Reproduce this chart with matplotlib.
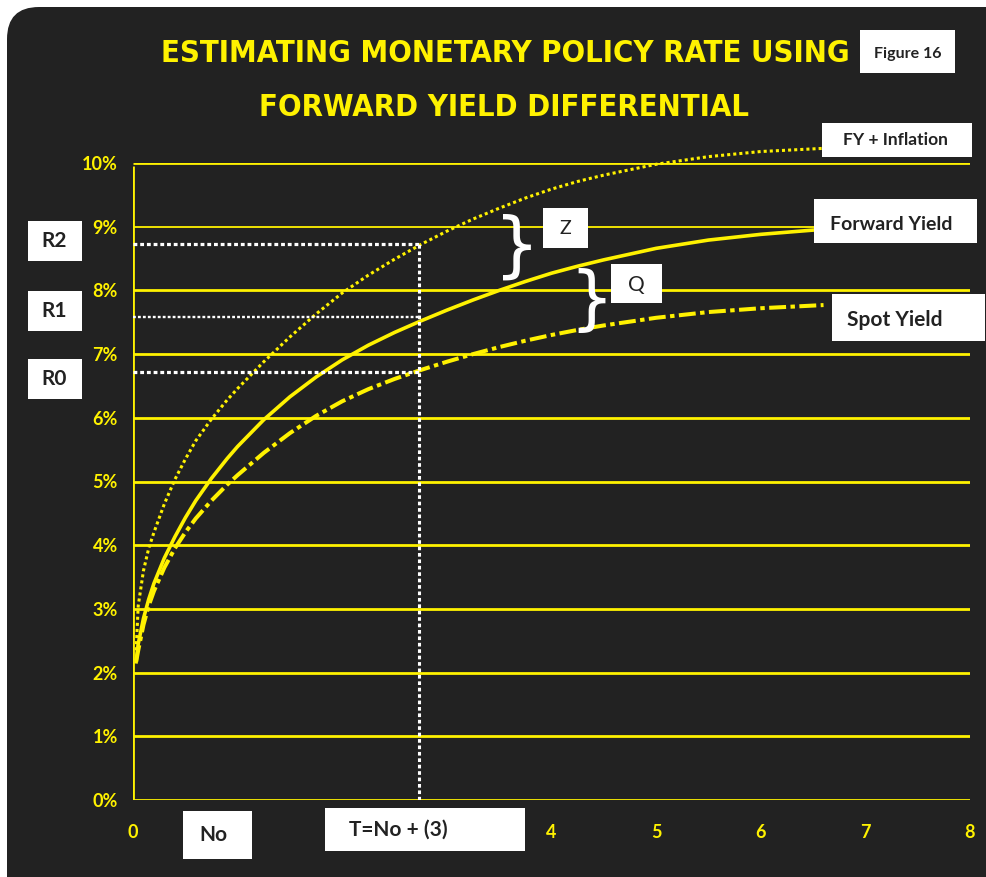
import matplotlib
matplotlib.use("Agg")
import matplotlib.pyplot as plt
from matplotlib import font_manager
from matplotlib.font_manager import FontProperties
from matplotlib.patches import FancyBboxPatch, Rectangle
from matplotlib.transforms import IdentityTransform

# ---------------- data ----------------
x_years = [0.03, 0.05, 0.1, 0.15, 0.2, 0.3, 0.4, 0.5, 0.6, 0.75, 0.9, 1.0, 1.25, 1.5, 1.75,
           2.0, 2.25, 2.5, 2.75, 3.0, 3.25, 3.5, 3.75, 4.0, 4.25, 4.5, 5.0, 5.5, 6.0, 6.6]
forward_yield = [2.17, 2.45, 2.85, 3.15, 3.4, 3.8, 4.13, 4.43, 4.7, 5.05, 5.36, 5.55, 5.97, 6.33, 6.64,
                 6.91, 7.14, 7.34, 7.52, 7.69, 7.85, 8.0, 8.14, 8.27, 8.38, 8.48, 8.66, 8.79, 8.88, 8.96]
spot_yield = [2.17, 2.35, 2.75, 3.05, 3.28, 3.65, 3.95, 4.2, 4.42, 4.7, 4.95, 5.1, 5.45, 5.76, 6.03,
              6.26, 6.45, 6.61, 6.75, 6.88, 7.0, 7.11, 7.21, 7.3, 7.38, 7.45, 7.57, 7.66, 7.72, 7.77]
fy_inflation = [2.35, 3.05, 3.6, 3.95, 4.2, 4.65, 5.03, 5.35, 5.64, 5.98, 6.28, 6.46, 6.88, 7.27, 7.63,
                7.96, 8.24, 8.49, 8.72, 8.93, 9.12, 9.29, 9.45, 9.59, 9.71, 9.81, 9.98, 10.1, 10.18, 10.23]
r_levels = [6.72, 7.58, 8.73]       # R0, R1, R2
r_labels = ["R0", "R1", "R2"]
t_marker = 2.73
y_ticks = list(range(0, 11))
y_tick_labels = [f"{v}%" for v in y_ticks]
x_ticks = [0, 4, 5, 6, 7, 8]
x_tick_labels = [str(v) for v in x_ticks]
title_lines = ["ESTIMATING MONETARY POLICY RATE USING", "FORWARD YIELD DIFFERENTIAL"]

YEL = "#FFF200"
BG = "#222222"
DARK = "#222222"

avail = {f.name for f in font_manager.fontManager.ttflist}
BASE = "Lato" if "Lato" in avail else "DejaVu Sans"

title_fp = None
for f in font_manager.fontManager.ttflist:
    fn = f.fname.lower()
    if ("condensed" in fn or "narrow" in fn) and ("bold" in fn) and "oblique" not in fn and "italic" not in fn:
        title_fp = FontProperties(fname=f.fname)
        break
if title_fp is None:
    title_fp = FontProperties(family=BASE, weight="bold")

W, H = 987, 877
fig = plt.figure(figsize=(W / 100, H / 100), dpi=100, facecolor="white")

panel = FancyBboxPatch((7, -60), 1100, H - 7 + 60, boxstyle="round,pad=0,rounding_size=32",
                       transform=IdentityTransform(), facecolor=BG, edgecolor="none", zorder=-5)
fig.patches.append(panel)

def fx(x):
    return x / W

def fy(y):
    return 1 - y / H

ax = fig.add_axes([133 / W, 77 / H, 837 / W, 637 / H])
ax.set_facecolor("none")
ax.set_zorder(1)
ax.set_xlim(0, 8)
ax.set_ylim(0, 10)
for s in ax.spines.values():
    s.set_visible(False)

for v in y_ticks:
    ax.hlines(v, 0, 8, color=YEL, lw=1.3 if v == 9 else 2.0, zorder=1)
ax.vlines(0, 0, 9.95, color=YEL, lw=2.0, zorder=1)

ax.set_yticks(y_ticks)
ax.set_yticklabels(y_tick_labels)
ax.set_xticks(x_ticks)
ax.set_xticklabels(x_tick_labels)
ax.tick_params(length=0, colors=YEL, labelsize=13)
ax.tick_params(axis="y", pad=11)
ax.tick_params(axis="x", pad=17)
for lab in ax.get_xticklabels() + ax.get_yticklabels():
    lab.set_fontfamily(BASE)
    lab.set_fontweight("bold")
    lab.set_color(YEL)

ax.plot(x_years, fy_inflation, color=YEL, lw=2.2, dashes=(1, 1), clip_on=False, zorder=3)
ax.plot(x_years, forward_yield, color=YEL, lw=2.6, clip_on=False, zorder=3,
        solid_joinstyle="round")
ax.plot(x_years, spot_yield, color=YEL, lw=2.9, dashes=(4.2, 1.1, 1.1, 1.1), clip_on=False, zorder=3)

for i, r in enumerate(r_levels):
    lw = 1.7 if i == 1 else 2.3
    ax.plot([0, t_marker], [r, r], color="white", lw=lw, dashes=(1.2, 0.9), zorder=4)
ax.plot([t_marker, t_marker], [0, max(r_levels)], color="white", lw=2.2, dashes=(1.2, 0.9), zorder=4)

def box(x0, y0, x1, y1, text, size, weight="bold", tx=None, ty=None):
    fig.patches.append(Rectangle((fx(x0), fy(y1)), fx(x1 - x0), (y1 - y0) / H,
                                 transform=fig.transFigure, facecolor="white", edgecolor="none", zorder=5))
    cx = (x0 + x1) / 2 if tx is None else tx
    cy = (y0 + y1) / 2 if ty is None else ty
    fig.text(fx(cx), fy(cy), text, ha="center", va="center", fontsize=size, fontweight=weight,
             color=DARK, family=BASE, zorder=6)

box(860, 30, 955, 73, "Figure 16", 11.5, ty=54)
box(822, 123, 972, 157, "FY + Inflation", 12.5, tx=895)
box(814, 199, 977, 243, "Forward Yield", 14, tx=891, ty=224)
box(832, 294, 985, 341, "Spot Yield", 15, tx=895, ty=320)
box(543, 208, 588, 248, "Z", 14, weight="normal")
box(611, 264, 662, 303, "Q", 15, weight="normal", ty=285)
r_boxes = [(359, 399), (291, 331), (221, 261)]
for (y0, y1), lab in zip(r_boxes, r_labels):
    box(28, y0, 82, y1, lab, 15, tx=54)
box(183, 811, 252, 859, "No", 15, tx=213)
box(325, 808, 525, 851, "T=No + (3)", 15, tx=398)

fig.text(fx(517), fy(248), "}", ha="center", va="center", fontsize=52, color="white",
         family="DejaVu Sans", zorder=6)
fig.text(fx(591), fy(302), "}", ha="center", va="center", fontsize=50, color="white",
         family="DejaVu Sans", zorder=6)

t1 = fig.text(fx(505), fy(53), title_lines[0], ha="center", va="center", fontproperties=title_fp,
              fontsize=26, color=YEL, zorder=6)
t2 = fig.text(fx(504), fy(107), title_lines[1], ha="center", va="center", fontproperties=title_fp,
              fontsize=26, color=YEL, zorder=6)
renderer = fig.canvas.get_renderer()
w1 = t1.get_window_extent(renderer).width
fs = 26 * 690 / w1
t1.set_fontsize(fs)
t2.set_fontsize(fs)

fig.savefig("out.png", dpi=100, facecolor="white")
